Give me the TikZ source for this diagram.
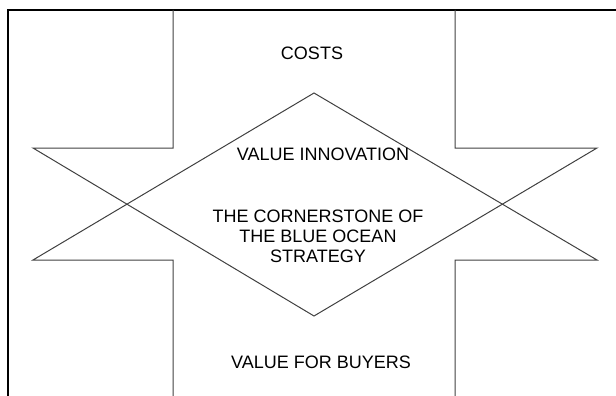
\documentclass[tikz,border=0pt]{standalone}
\usepackage{fontspec}
\setmainfont{Liberation Sans}
\begin{document}
\begin{tikzpicture}[x=1pt,y=-1pt,every node/.style={font=\fontsize{18}{20}\selectfont,inner sep=0pt}]
        \useasboundingbox (0,0) rectangle (616,396);
        \coordinate (T) at (314,93);
        \coordinate (B) at (314,316);
        \coordinate (LT) at (33,148);
        \coordinate (LB) at (33,260);
        \coordinate (RT) at (597,148);
        \coordinate (RB) at (597,260);
        \draw[line width=2pt] (8,396) -- (8,10) -- (616,10);
        \draw[black!75, line width=1pt] (173,10) -- (173,148) -- (LT) -- (B) -- (RT) -- (455,148) -- (455,10);
        \draw[black!75, line width=1pt] (173,396) -- (173,260) -- (LB) -- (T) -- (RB) -- (455,260) -- (455,396);
        \node (costs) at (312,53) {COSTS};
        \node (innov) at (323,154) {VALUE INNOVATION};
        \node (corner) at (318,236) [align=center] {THE CORNERSTONE OF\\THE BLUE OCEAN\\STRATEGY};
        \node (buyers) at (321,362) {VALUE FOR BUYERS};
    \end{tikzpicture}
\end{document}
